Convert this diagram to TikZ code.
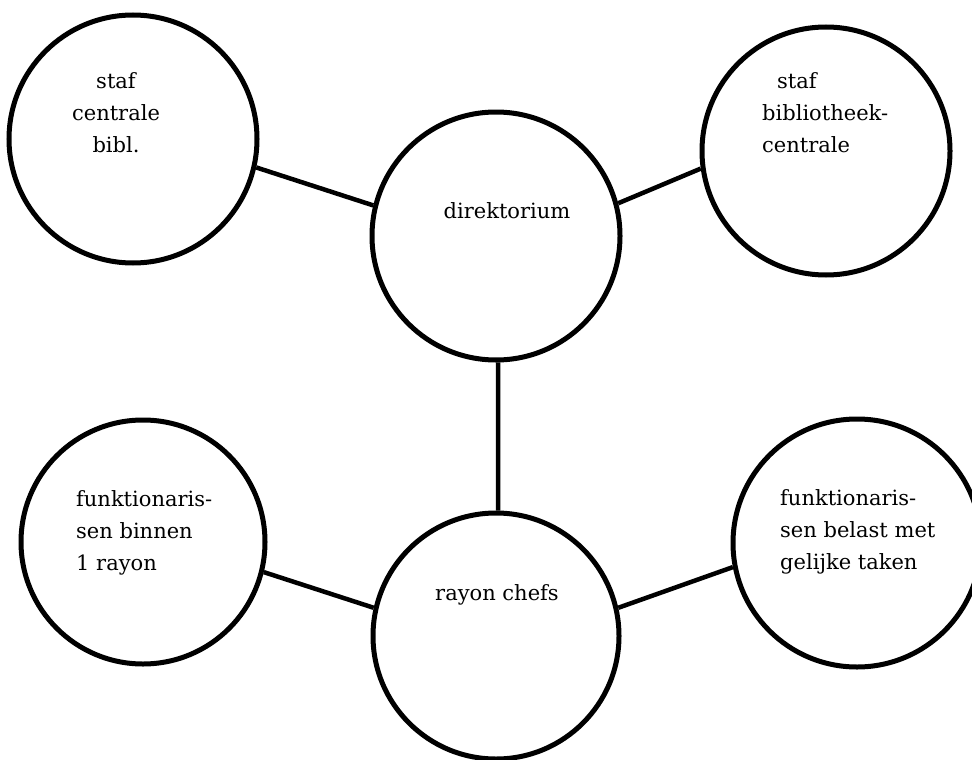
\documentclass[tikz,border=0pt]{standalone}
\usepackage{fontspec}
\setmainfont{DejaVu Serif}
\begin{document}
\begin{tikzpicture}[x=1pt,y=-1pt,
  bubble/.style={circle,draw=black,line width=5pt,inner sep=0pt,fill=none},
  link/.style={draw=black,line width=4.5pt},
  lbl/.style={inner sep=0pt,font=\fontsize{21}{32}\selectfont}]
\useasboundingbox (0,0) rectangle (972,760);
% circles
\node[bubble,minimum size=248pt] (tl) at (133,139) {};
\node[bubble,minimum size=248pt] (dir) at (496,236) {};
\node[bubble,minimum size=248pt] (tr) at (826,151) {};
\node[bubble,minimum size=244pt] (bl) at (143,542) {};
\node[bubble,minimum size=246pt] (ray) at (496,636) {};
\node[bubble,minimum size=248pt] (br) at (857,543) {};
% labels
\node[lbl,anchor=north,align=center] (tltext) at (116,72) {staf\\centrale\\bibl.};
\node[lbl,anchor=north] (dirtext) at (507,202) {direktorium};
\node[lbl,anchor=north west,align=left] (trtext) at (762,72) {\hspace*{15pt}staf\\bibliotheek-\\centrale};
\node[lbl,anchor=north west,align=left] (bltext) at (76,490) {funktionaris-\\sen binnen\\1 rayon};
\node[lbl,anchor=north] (raytext) at (497,584) {rayon chefs};
\node[lbl,anchor=north west,align=left] (brtext) at (780,489) {funktionaris-\\sen belast met\\gelijke taken};
% connectors
\draw[link] (tl.-13) -- (dir.166.5);
\draw[link] (dir.15) -- (tr.-172);
\draw[link] (dir.-89) -- (ray.89);
\draw[link] (bl.-14) -- (ray.167);
\draw[link] (ray.13) -- (br.-169);
\end{tikzpicture}
\end{document}
